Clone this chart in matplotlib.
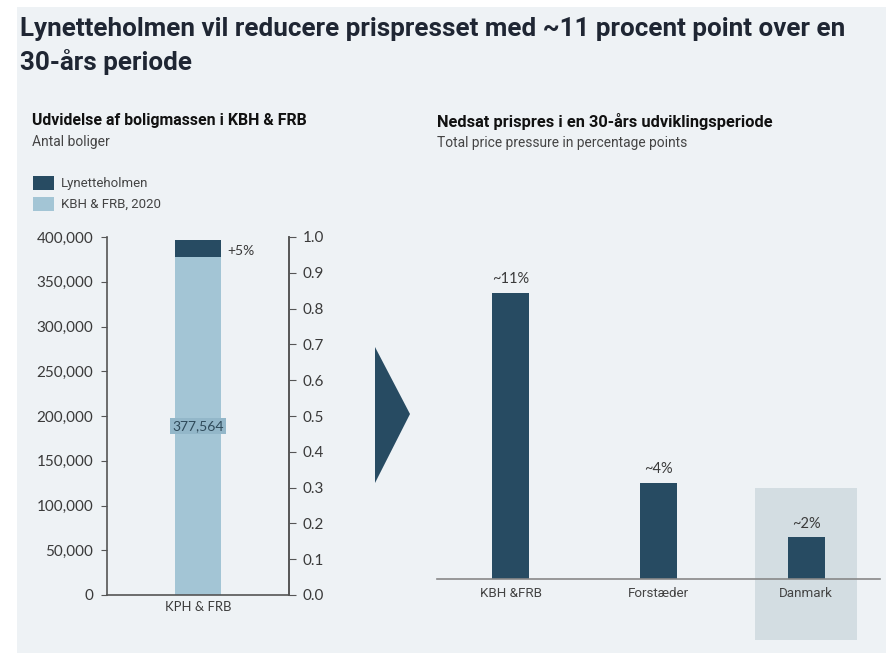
import matplotlib.pyplot as plt
from matplotlib.patches import Polygon, Rectangle
from matplotlib.ticker import FuncFormatter

# data
left_cat = ["KPH & FRB"]
base_2020 = [377564]
lynetteholmen = [18878]
growth_label = "+5%"

right_cat = ["KBH &FRB", "Forstæder", "Danmark"]
pressure = [11.0, 3.7, 1.6]
pressure_labels = ["~11%", "~4%", "~2%"]

DARK = "#274b62"
LIGHT = "#a3c5d5"
BG = "#eef2f5"
TXT = "#3a3a3a"
W, H = 886, 653

fig = plt.figure(figsize=(W / 100, H / 100), dpi=100)
fig.patch.set_facecolor("white")
# grey panel behind everything
fig.patches.append(Rectangle((17 / W, 0), 1, 1 - 7 / H, transform=fig.transFigure,
                             facecolor=BG, edgecolor="none", zorder=-10))

fig.text(20 / W, 1 - 17 / H, "Lynetteholmen vil reducere prispresset med ~11 procent point over en\n30-års periode",
         family="Roboto", weight="bold", fontsize=18.7, color="#1f2633", va="top", linespacing=1.4)

# ---- left panel ----
fig.text(32 / W, 1 - 120 / H, "Udvidelse af boligmassen i KBH & FRB", family="Roboto",
         weight="bold", fontsize=11.4, color="#111111", va="center")
fig.text(32 / W, 1 - 142 / H, "Antal boliger", family="Roboto", fontsize=10, color="#444444", va="center")

for i, (lab, col) in enumerate([("Lynetteholmen", DARK), ("KBH & FRB, 2020", LIGHT)]):
    yc = 183 + i * 21
    fig.patches.append(Rectangle((33 / W, 1 - (yc + 7) / H), 21 / W, 14 / H, transform=fig.transFigure,
                                 facecolor=col, edgecolor="none"))
    fig.text(61 / W, 1 - yc / H, lab, family="Roboto", fontsize=9.5, color="#444444", va="center")

ax = fig.add_axes([107 / W, 1 - 595 / H, 182 / W, 358 / H])
ax.set_facecolor("none")
ax.bar(range(len(left_cat)), base_2020, width=0.5, color=LIGHT)
ax.bar(range(len(left_cat)), lynetteholmen, bottom=base_2020, width=0.5, color=DARK)
ax.set_xlim(-1, 1)
ax.set_ylim(0, 400000)
ax.set_yticks(range(0, 400001, 50000))
ax.yaxis.set_major_formatter(FuncFormatter(lambda v, p: f"{int(v):,}"))
ax.set_xticks(range(len(left_cat)))
ax.set_xticklabels(left_cat)
ax.spines["top"].set_visible(False)
for s in ["left", "bottom", "right"]:
    ax.spines[s].set_color("#555555")
    ax.spines[s].set_linewidth(1.2)
ax.tick_params(axis="y", length=4, color="#555555", labelsize=11, labelcolor=TXT, pad=6)
ax.tick_params(axis="x", length=0, labelsize=9.4, labelcolor=TXT, pad=4)
for t in ax.get_yticklabels() + ax.get_xticklabels():
    t.set_family("Lato")
for i in range(len(left_cat)):
    ax.text(i, base_2020[i] / 2, f"{base_2020[i]:,}", ha="center", va="center", family="Lato",
            fontsize=10, color="#2f4a5a",
            bbox=dict(boxstyle="square,pad=0.15", facecolor="#93b7c9", edgecolor="none"))
    ax.text(i + 0.32, base_2020[i] + lynetteholmen[i] * 0.35, growth_label, ha="left", va="center",
            family="Lato", fontsize=10, color=TXT)

ax2 = ax.twinx()
ax2.set_ylim(0, 1)
ax2.set_yticks([i / 10 for i in range(11)])
ax2.yaxis.set_major_formatter(FuncFormatter(lambda v, p: f"{v:.1f}"))
for s in ["top", "left", "bottom"]:
    ax2.spines[s].set_visible(False)
ax2.spines["right"].set_color("#555555")
ax2.spines["right"].set_linewidth(1.2)
ax2.tick_params(axis="y", length=5, color="#555555", labelsize=11, labelcolor=TXT, pad=5)
for t in ax2.get_yticklabels():
    t.set_family("Lato")

# arrow
pts = [(375, 347), (375, 483), (410, 414)]
fig.patches.append(Polygon([(x / W, 1 - y / H) for x, y in pts], closed=True,
                           transform=fig.transFigure, facecolor=DARK, edgecolor="none"))

# ---- right panel ----
fig.text(437 / W, 1 - 122 / H, "Nedsat prispres i en 30-års udviklingsperiode", family="Roboto",
         weight="bold", fontsize=11.8, color="#111111", va="center")
fig.text(437 / W, 1 - 143 / H, "Total price pressure in percentage points", family="Roboto",
         fontsize=9.9, color="#444444", va="center")

bx = fig.add_axes([437 / W, 1 - 579 / H, 443 / W, 312 / H])
bx.set_facecolor("none")
pos = list(range(len(right_cat)))
bx.set_xlim(-0.5, 2.5)
bx.set_ylim(0, 12)
# highlight box behind Danmark
hl = pos[-1]
bx.add_patch(Rectangle((hl - 0.345, -2.35), 0.69, 5.85, facecolor="#d3dde2",
                       edgecolor="none", clip_on=False, zorder=0))
bx.bar(pos, pressure, width=0.25, color=DARK, zorder=2)
for p, v, lab in zip(pos, pressure, pressure_labels):
    bx.text(p, v + 0.25, lab, ha="center", va="bottom", family="Lato", fontsize=10.5, color=TXT)
bx.set_xticks(pos)
bx.set_xticklabels(right_cat)
for t in bx.get_xticklabels():
    t.set_family("Roboto")
bx.tick_params(axis="x", length=0, labelsize=9.6, labelcolor="#444444", pad=6)
bx.set_yticks([])
for s in ["top", "left", "right"]:
    bx.spines[s].set_visible(False)
bx.spines["bottom"].set_color("#888888")
bx.spines["bottom"].set_linewidth(1.2)
bx.spines["bottom"].set_zorder(3)

fig.savefig("out.png", dpi=100, facecolor=fig.get_facecolor())
